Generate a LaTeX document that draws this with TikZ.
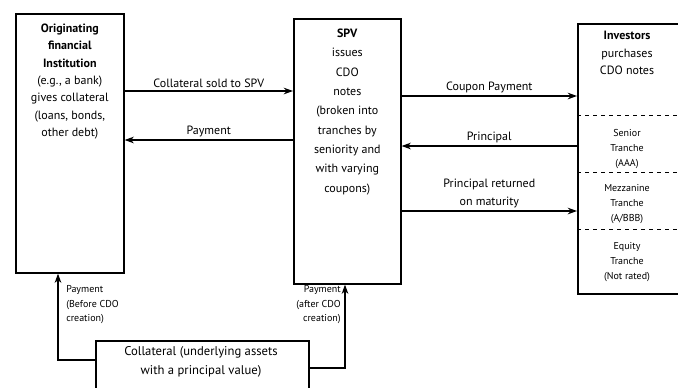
\documentclass[tikz,border=0pt]{standalone}
\usepackage{fontspec}
\setmainfont{PT Sans}
\usetikzlibrary{arrows.meta,positioning,calc}

\begin{document}
\begin{tikzpicture}[x=0.75pt,y=-0.75pt,
    box/.style={draw,line width=1.2pt,rectangle,anchor=north west,inner sep=0pt},
    boxtext/.style={align=center,font=\fontsize{9}{13}\selectfont,inner sep=0pt},
    tranche/.style={align=center,font=\fontsize{7.5}{11.5}\selectfont,inner sep=0pt},
    flow/.style={line width=1pt,-{Stealth[length=7pt,width=5pt]}},
    flowlbl/.style={font=\fontsize{9}{13}\selectfont,inner sep=2pt,align=center},
    smalllbl/.style={font=\fontsize{7.5}{11}\selectfont,inner sep=0pt}]
    \useasboundingbox (0,0) rectangle (678,387);
    % Originating institution
    \node[box,minimum width=81pt,minimum height=194.25pt] (orig) at (15,13) {};
    \node[boxtext,below=8pt of orig.north] (origtext)
      {\textbf{Originating}\\\textbf{financial}\\\textbf{Institution}\\(e.g., a bank)\\gives collateral\\(loans, bonds,\\other debt)};
    % SPV
    \node[box,minimum width=80.25pt,minimum height=198.75pt] (spv) at (293,18) {};
    \node[boxtext,below=8pt of spv.north,font=\fontsize{9}{14.5}\selectfont] (spvtext)
      {\textbf{SPV}\\issues\\CDO\\notes\\(broken into\\tranches by\\seniority and\\with varying\\coupons)};
    % Investors and tranches (box runs off the right edge)
    \node[box,minimum width=82.5pt,minimum height=202.5pt] (inv) at (577,23) {};
    \node[boxtext,anchor=north] (invtext) at (627,31) {\textbf{Investors}\\purchases\\CDO notes};
    \draw[dashed] (inv.west |- 0,115) -- (inv.east |- 0,115);
    \draw[dashed] (inv.west |- 0,172) -- (inv.east |- 0,172);
    \draw[dashed] (inv.west |- 0,229) -- (inv.east |- 0,229);
    \node[tranche] (senior) at (627,149) {Senior\\Tranche\\(AAA)};
    \node[tranche] (mezz) at (627,204) {Mezzanine\\Tranche\\(A/BBB)};
    \node[tranche] (equity) at (627,262) {Equity\\Tranche\\(Not rated)};
    % Collateral at the bottom
    \node[box,minimum width=159.75pt,minimum height=39pt] (coll) at (95,340) {};
    \node[boxtext,font=\fontsize{9.5}{14.5}\selectfont] (colltext) at (201,362)
      {Collateral (underlying assets\\with a principal value)};
    % Flows between institution and SPV
    \draw[flow] (orig.east |- 0,91) -- node[flowlbl,above] {Collateral sold to SPV} (spv.west |- 0,91);
    \draw[flow] (spv.west |- 0,140) -- node[flowlbl,above] {Payment} (orig.east |- 0,140);
    % Flows between SPV and investors
    \draw[flow] (spv.east |- 0,96) -- node[flowlbl,above] {Coupon Payment} (inv.west |- 0,96);
    \draw[flow] (inv.west |- 0,146) -- node[flowlbl,above] {Principal} (spv.east |- 0,146);
    \draw[flow] (spv.east |- 0,211) -- node[flowlbl,above] {Principal returned\\on maturity} (inv.west |- 0,211);
    % Payments out of the collateral
    \draw[flow] (coll.west |- 0,360) -| (orig.south -| 58,0);
    \draw[flow] (coll.east |- 0,368) -| (spv.south -| 345,0);
    \node[smalllbl,align=left,anchor=north west] (paybefore) at (66,285) {Payment\\(Before CDO\\creation)};
    \node[smalllbl,align=right,anchor=north east] (payafter) at (341,285) {Payment\\(after CDO\\creation)};
\end{tikzpicture}
\end{document}
